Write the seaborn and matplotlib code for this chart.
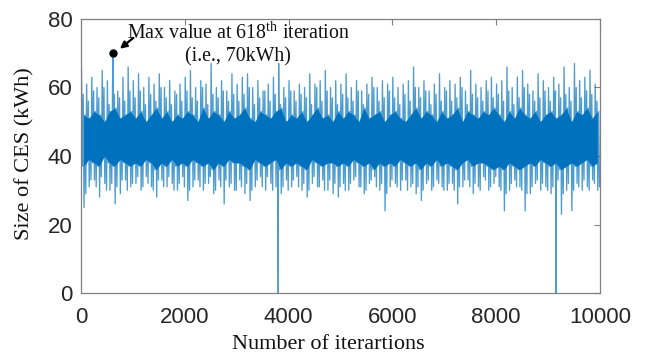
import numpy as np
import pandas as pd
import matplotlib
matplotlib.use("Agg")
import matplotlib.pyplot as plt
import seaborn as sns

# ---- data (per 100-iteration bin) ----
bin_starts = list(range(0, 10000, 100))
# highest spike in each bin
outer_hi = [66, 61, 63, 60, 65, 62, 62, 59, 63, 66,
            62, 64, 60, 63, 61, 64, 60, 62, 59, 61,
            63, 65, 60, 62, 61, 67, 60, 62, 59, 64,
            61, 63, 64, 60, 62, 59, 61, 63, 67, 60,
            62, 59, 61, 60, 64, 61, 62, 65, 60, 62,
            61, 64, 60, 62, 59, 61, 63, 60, 62, 61,
            63, 60, 61, 62, 66, 60, 62, 59, 61, 64,
            60, 62, 61, 63, 59, 65, 61, 60, 62, 63,
            61, 62, 66, 60, 63, 65, 61, 59, 64, 62,
            60, 63, 61, 66, 60, 67, 62, 63, 65, 61]
# lowest spike in each bin
outer_lo = [25, 31, 33, 28, 32, 30, 26, 29, 33, 31,
            32, 30, 34, 31, 28, 33, 31, 32, 30, 34,
            27, 31, 33, 30, 32, 29, 33, 26, 31, 30,
            33, 29, 27, 31, 34, 30, 32, 31, 29, 33,
            31, 34, 30, 28, 32, 31, 33, 30, 29, 28,
            32, 30, 33, 31, 29, 32, 34, 30, 24, 31,
            32, 30, 33, 31, 29, 27, 32, 30, 33, 31,
            30, 32, 26, 31, 33, 29, 31, 34, 30, 32,
            31, 24, 30, 33, 31, 24, 29, 32, 30, 31,
            29, 31, 23, 30, 24, 32, 30, 31, 33, 30]
# secondary spikes
mid_hi = [58, 56, 59, 57, 60, 55, 58, 57, 56, 59,
          57, 59, 55, 58, 56, 60, 57, 55, 58, 56,
          59, 57, 56, 60, 55, 58, 57, 59, 56, 58,
          56, 58, 60, 55, 57, 59, 56, 58, 55, 57,
          59, 56, 58, 57, 55, 60, 56, 59, 57, 55,
          58, 57, 56, 59, 55, 58, 60, 56, 57, 59,
          57, 55, 58, 56, 60, 57, 59, 55, 58, 56,
          59, 56, 57, 60, 55, 58, 57, 56, 59, 57,
          58, 56, 59, 55, 57, 60, 58, 56, 57, 59,
          56, 59, 57, 58, 56, 60, 57, 59, 58, 56]
mid_lo = [29, 33, 31, 34, 30, 32, 31, 33, 30, 32,
          34, 31, 32, 30, 33, 31, 34, 30, 32, 31,
          30, 33, 31, 32, 34, 30, 31, 33, 32, 30,
          31, 32, 30, 33, 31, 34, 30, 32, 31, 30,
          33, 31, 32, 30, 34, 31, 30, 33, 32, 31,
          30, 32, 34, 31, 30, 33, 31, 32, 29, 33,
          31, 33, 30, 32, 31, 30, 33, 31, 32, 30,
          32, 30, 31, 33, 31, 32, 30, 33, 31, 34,
          30, 29, 32, 31, 30, 29, 31, 33, 32, 30,
          31, 33, 29, 32, 30, 31, 33, 30, 32, 31]
# edges of the dense dark core
inner_hi = [52, 51, 53, 52, 50, 53, 54, 51, 52, 53,
            51, 53, 50, 52, 54, 51, 53, 50, 52, 51,
            53, 52, 50, 54, 51, 53, 52, 50, 53, 51,
            52, 54, 51, 50, 53, 52, 51, 53, 54, 50,
            52, 51, 53, 50, 52, 54, 51, 52, 50, 53,
            51, 53, 52, 50, 54, 51, 52, 53, 50, 52,
            53, 51, 50, 52, 54, 51, 53, 52, 50, 53,
            51, 52, 54, 50, 53, 52, 51, 53, 52, 54,
            52, 50, 53, 51, 54, 52, 51, 53, 50, 52,
            53, 51, 52, 54, 50, 53, 52, 54, 51, 53]
inner_lo = [37, 39, 38, 37, 40, 38, 37, 39, 38, 37,
            38, 37, 39, 38, 36, 38, 37, 39, 37, 38,
            37, 39, 38, 37, 38, 36, 38, 37, 39, 38,
            38, 37, 36, 39, 38, 37, 38, 39, 36, 38,
            37, 38, 37, 36, 39, 38, 37, 38, 38, 37,
            38, 37, 39, 38, 37, 38, 36, 38, 37, 38,
            37, 39, 38, 37, 38, 36, 38, 37, 39, 37,
            38, 37, 36, 38, 39, 37, 38, 38, 37, 36,
            37, 36, 38, 37, 36, 37, 38, 37, 39, 38,
            37, 38, 36, 37, 38, 37, 38, 39, 37, 38]
# isolated extreme iterations
spike_iters = [618, 3800, 9150]
spike_vals = [70, 0, 0]
max_iter, max_val = 618, 70

x_ticks = [0, 2000, 4000, 6000, 8000, 10000]
y_ticks = [0, 20, 40, 60, 80]

# ---- build the series (each bin visits its six read values) ----
xs, ys = [], []
for s, oh, il, mh, ol, ih, ml in zip(bin_starts, outer_hi, inner_lo, mid_hi,
                                     outer_lo, inner_hi, mid_lo):
    xs += [s + 8, s + 25, s + 42, s + 58, s + 75, s + 92]
    ys += [oh, il, mh, ol, ih, ml]
xs += spike_iters
ys += spike_vals
series = pd.DataFrame({"it": xs, "val": ys}).sort_values("it")
core = pd.DataFrame({"it": [s + 50 for s in bin_starts],
                     "lo": inner_lo, "hi": inner_hi})

sns.set_theme(style="white")
plt.rcParams["mathtext.fontset"] = "custom"
plt.rcParams["mathtext.rm"] = "Liberation Serif"

fig = plt.figure(figsize=(6.54, 3.55), dpi=100)
ax = fig.add_axes([0.1239, 0.1746, 0.7935, 0.7719])

blue = "#0072BD"
ax.fill_between(core["it"], core["lo"], core["hi"], color=blue, lw=0,
                zorder=1)
sns.lineplot(data=series, x="it", y="val", ax=ax, color=blue, lw=0.95,
             alpha=0.7, estimator=None, sort=False, zorder=2)

ax.set_xlim(0, 10000)
ax.set_ylim(0, 80)
ax.set_xticks(x_ticks)
ax.set_yticks(y_ticks)
ax.tick_params(direction="in", length=4, width=0.8, color="#808080",
               top=True, right=True, labelsize=16, labelcolor="#262626")
ax.tick_params(axis="x", pad=10)
ax.tick_params(axis="y", pad=6)
for lab in ax.get_xticklabels() + ax.get_yticklabels():
    lab.set_fontfamily("Liberation Sans")
for sp in ax.spines.values():
    sp.set_color("#808080")
    sp.set_linewidth(0.9)
    sp.set_zorder(6)

ax.set_xlabel("Number of iterartions", fontfamily="Liberation Serif",
              fontsize=16, color="#111111")
ax.xaxis.set_label_coords(0.476, -0.155)
ax.set_ylabel("Size of CES (kWh)", fontfamily="Liberation Serif",
              fontsize=16, color="#111111")
ax.yaxis.set_label_coords(-0.09, 0.507)

ax.plot([max_iter], [max_val], "o", color="black", ms=5, zorder=7)
ax.annotate("", xy=(max_iter + 90, max_val + 0.8), xytext=(1050, 75),
            arrowprops=dict(arrowstyle="-|>", color="black", lw=1.6,
                            mutation_scale=10), zorder=7)
ax.text(3025, 72.6,
        "Max value at 618$^{\\mathrm{th}}$ iteration\n(i.e., 70kWh)",
        ha="center", va="center", fontfamily="Liberation Serif",
        fontsize=14.3, linespacing=1.2, color="#111111", zorder=7)

fig.savefig("out.png", dpi=100)
